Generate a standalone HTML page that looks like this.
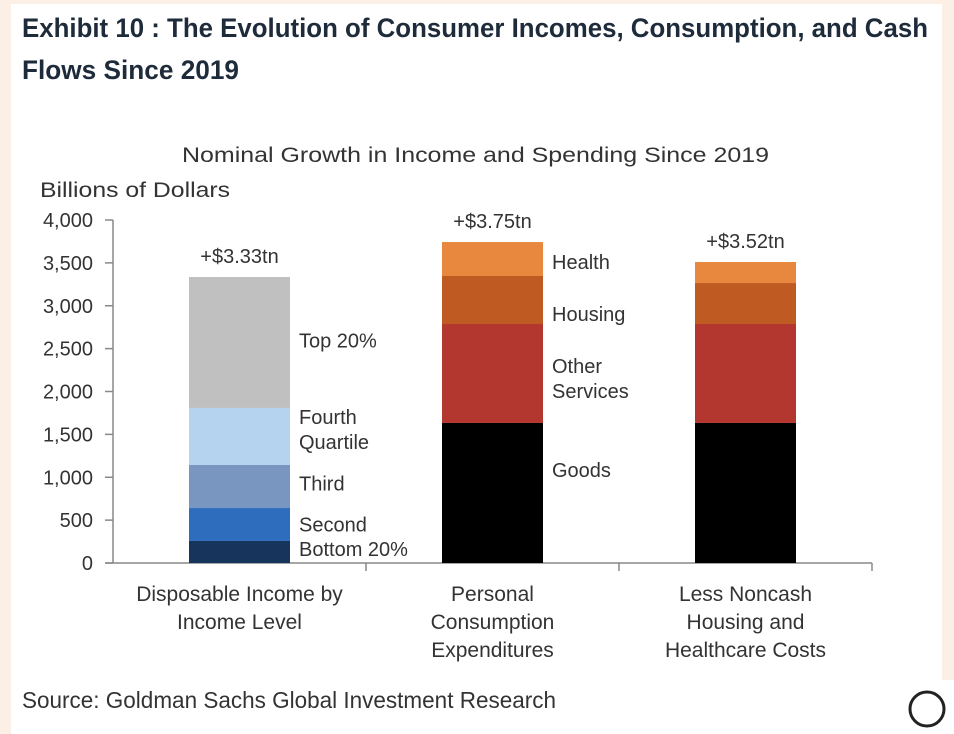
<!DOCTYPE html>
<html><head><meta charset="utf-8"><style>
html,body{margin:0;padding:0;background:#fcefe6;}
svg{display:block;font-family:"Liberation Sans",sans-serif;}
</style></head><body>
<svg width="954" height="734" viewBox="0 0 954 734">
<rect x="0" y="0" width="954" height="734" fill="#fcefe6"/>
<rect x="11" y="4" width="931" height="730" fill="#ffffff"/>
<rect x="900" y="680" width="54" height="54" fill="#ffffff"/>
<text x="22" y="37" font-size="27" font-weight="bold" fill="#1e2b3a" textLength="906" lengthAdjust="spacingAndGlyphs">Exhibit 10 : The Evolution of Consumer Incomes, Consumption, and Cash</text>
<text x="22" y="79" font-size="27" font-weight="bold" fill="#1e2b3a" textLength="217" lengthAdjust="spacingAndGlyphs">Flows Since 2019</text>
<text x="182" y="162" font-size="21" fill="#333" textLength="587" lengthAdjust="spacingAndGlyphs">Nominal  Growth  in  Income  and  Spending  Since  2019</text>
<text x="40" y="197" font-size="21" fill="#333" textLength="190" lengthAdjust="spacingAndGlyphs">Billions of Dollars</text>
<g id="plot"></g>
<text x="22" y="708" font-size="23" fill="#333" textLength="534" lengthAdjust="spacingAndGlyphs">Source: Goldman Sachs Global Investment Research</text>
<circle cx="927" cy="709" r="17" fill="none" stroke="#222" stroke-width="3"/>
</svg>
<script>
const yTicks=[0,500,1000,1500,2000,2500,3000,3500,4000];
const categories=[["Disposable Income by","Income Level"],["Personal","Consumption","Expenditures"],["Less Noncash","Housing and","Healthcare Costs"]];
const totals=["+$3.33tn","+$3.75tn","+$3.52tn"];
const incomeSegs=["Bottom 20%","Second","Third","Fourth Quartile","Top 20%"];
const incomeVals=[257,384,502,665,1527];
const spendSegs=["Goods","Other Services","Housing","Health"];
const pceVals=[1633,1154,560,396];
const netVals=[1633,1154,478,245];
const incomeColors=["#17345c","#2e6cbd","#7896c0","#b5d3ee","#c0c0c0"];
const spendColors=["#000000","#b3372f","#bf5a22","#e8883e"];
const incomeLabels=[["Bottom 20%"],["Second"],["Third"],["Fourth","Quartile"],["Top 20%"]];
const spendLabels=[["Goods"],["Other","Services"],["Housing"],["Health"]];
const incomeLabelShift=[-3,0,-3,-7,-2];
const spendLabelShift=[-23,5,14,3];

const NS="http://www.w3.org/2000/svg";
const g=document.getElementById('plot');
const y0=563,y1=220,vmax=4000,xL=113,xR=872;
const y=v=>y0-(v/vmax)*(y0-y1);
const catW=(xR-xL)/3;
const bx=i=>xL+catW*i+catW/2;
const barW=101;
function mk(t,a){const e=document.createElementNS(NS,t);for(const k in a)e.setAttribute(k,a[k]);g.appendChild(e);return e;}
let e=mk('line',{x1:xL,y1:y1,x2:xL,y2:y0,stroke:'#888','stroke-width':1.5});


e=mk('line',{x1:xL-8,y1:y0,x2:xR,y2:y0,stroke:'#888','stroke-width':1.5});


yTicks.forEach(v=>{
 let t=mk('line',{x1:xL-8,y1:y(v),x2:xL,y2:y(v),stroke:'#888','stroke-width':1.5});
 
 
 let l=mk('text',{x:93,y:y(v)+7,'font-size':20,fill:'#333','text-anchor':'end'});
 l.textContent=v.toLocaleString('en-US');
 
 
});
for(let i=1;i<=3;i++){
 let t=mk('line',{x1:xL+catW*i,y1:y0,x2:xL+catW*i,y2:y0+8,stroke:'#888','stroke-width':1.5});
 
 
}
categories.forEach((c,i)=>{
 c.forEach((s,j)=>{
  let l=mk('text',{x:bx(i),y:601+j*28,'font-size':21,fill:'#333','text-anchor':'middle'});
  l.textContent=s;
  
  
 });
});
function stack(i,vals,colors,labels,shifts){
 let acc=0;
 vals.forEach((v,k)=>{
  const top=acc+v;
  let r=mk('rect',{x:bx(i)-barW/2,y:y(top),width:barW,height:y(acc)-y(top),fill:colors[k]});
  
  
  if(shifts){
   const lines=labels[k];
   const mid=(y(acc)+y(top))/2;
   lines.forEach((s,j)=>{
    let l=mk('text',{x:bx(i)+barW/2+9,y:mid+7+shifts[k]+(j-(lines.length-1)/2)*25,'font-size':20,fill:'#333'});
    l.textContent=s;
    
    
   });
  }
  acc=top;
 });
 let t=mk('text',{x:bx(i),y:y(acc)-14,'font-size':20,fill:'#333','text-anchor':'middle'});
 t.textContent=totals[i];
 
 
}
stack(0,incomeVals,incomeColors,incomeLabels,incomeLabelShift);
stack(1,pceVals,spendColors,spendLabels,spendLabelShift);
stack(2,netVals,spendColors,spendLabels,null);
</script>
</body></html>
